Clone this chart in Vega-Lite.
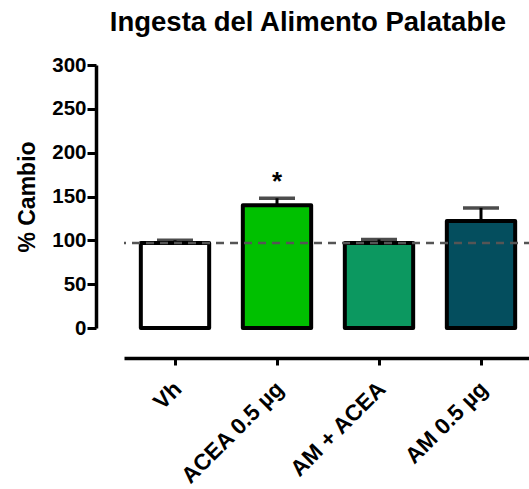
{
  "$schema": "https://vega.github.io/schema/vega-lite/v6.json",
  "autosize": "none",
  "padding": {"left": 124, "top": 65, "right": 0, "bottom": 161},
  "width": 408,
  "height": 263,
  "background": "white",
  "title": {
    "text": "Ingesta del Alimento Palatable",
    "font": "Liberation Sans",
    "fontSize": 27.5,
    "fontWeight": "bold",
    "color": "black",
    "anchor": "middle",
    "dx": -20,
    "offset": 19
  },
  "data": {
    "values": [
      {"grupo": "Vh", "valor": 97, "sup": 100, "sig": ""},
      {"grupo": "ACEA 0.5 µg", "valor": 140, "sup": 148, "sig": "*"},
      {"grupo": "AM + ACEA", "valor": 97, "sup": 101, "sig": ""},
      {"grupo": "AM 0.5 µg", "valor": 122, "sup": 137, "sig": ""}
    ]
  },
  "config": {
    "view": {"stroke": null},
    "axis": {
      "labelFont": "Liberation Sans",
      "labelFontWeight": "bold",
      "labelColor": "black",
      "titleFont": "Liberation Sans",
      "titleFontWeight": "bold",
      "titleColor": "black",
      "domainColor": "black",
      "tickColor": "black",
      "grid": false
    }
  },
  "layer": [
    {
      "mark": {"type": "bar", "stroke": "black", "strokeWidth": 4, "strokeJoin": "round"},
      "encoding": {
        "x": {
          "field": "grupo",
          "type": "nominal",
          "sort": null,
          "scale": {"paddingInner": 0.33, "paddingOuter": 0.165},
          "axis": {
            "title": null,
            "offset": 30,
            "domainWidth": 3.5,
            "tickWidth": 3,
            "tickSize": 7,
            "labelFontSize": 22.5,
            "labelAngle": -45,
            "labelAlign": "right",
            "labelBaseline": "middle",
            "labelPadding": 20,
            "labelOffset": 3
          }
        },
        "y": {
          "field": "valor",
          "type": "quantitative",
          "scale": {"domain": [0, 300], "nice": false},
          "axis": {
            "title": "% Cambio",
            "titleFontSize": 23,
            "titlePadding": 12,
            "offset": 28,
            "values": [0, 50, 100, 150, 200, 250, 300],
            "domainWidth": 3.5,
            "tickWidth": 3,
            "tickSize": 9,
            "labelFontSize": 20.5,
            "labelPadding": 1
          }
        },
        "fill": {
          "field": "grupo",
          "type": "nominal",
          "sort": null,
          "scale": {"range": ["#ffffff", "#00c000", "#0c9860", "#044e5e"]},
          "legend": null
        }
      }
    },
    {
      "mark": {"type": "rule", "color": "black", "strokeWidth": 3},
      "encoding": {
        "x": {"field": "grupo", "type": "nominal", "sort": null},
        "y": {"field": "valor", "type": "quantitative"},
        "y2": {"field": "sup"}
      }
    },
    {
      "mark": {"type": "tick", "color": "black", "thickness": 3.5, "size": 36},
      "encoding": {
        "x": {"field": "grupo", "type": "nominal", "sort": null},
        "y": {"field": "sup", "type": "quantitative"}
      }
    },
    {
      "data": {"values": [{"ref": 97}]},
      "mark": {"type": "rule", "color": "#555555", "strokeWidth": 2.5, "strokeDash": [8, 6]},
      "encoding": {
        "y": {"field": "ref", "type": "quantitative"}
      }
    },
    {
      "mark": {"type": "text", "font": "Liberation Sans", "fontSize": 26, "fontWeight": "bold", "baseline": "middle", "color": "black"},
      "encoding": {
        "x": {"field": "grupo", "type": "nominal", "sort": null},
        "y": {"datum": 166, "type": "quantitative"},
        "text": {"field": "sig"}
      }
    }
  ]
}
